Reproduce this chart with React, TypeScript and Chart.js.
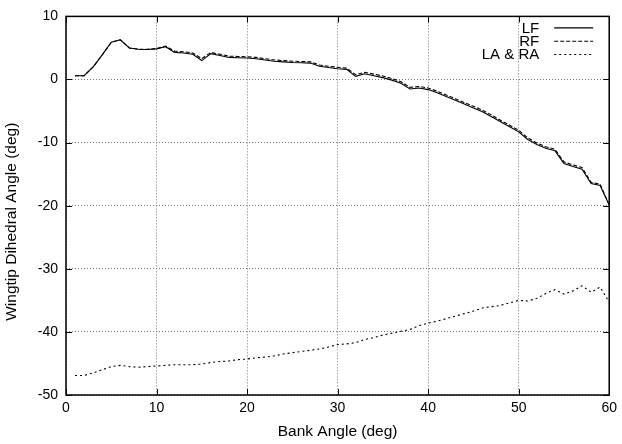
import React, { useEffect, useRef } from "react";
import { Chart, registerables } from "chart.js";

Chart.register(...registerables);

const bankAngle = [1,2,3,4,5,6,7,8,9,10,11,12,13,14,15,16,17,18,19,20,21,22,23,24,25,26,27,28,29,30,31,32,33,34,35,36,37,38,39,40,41,42,43,44,45,46,47,48,49,50,51,52,53,54,55,56,57,58,59,60];

const lf = [0.6,0.6,2.0,3.9,5.9,6.3,5.0,4.8,4.75,4.85,5.2,4.3,4.2,4.0,3.0,4.1,3.8,3.5,3.45,3.4,3.3,3.1,2.9,2.8,2.7,2.65,2.6,2.1,1.9,1.7,1.6,0.5,0.9,0.6,0.3,-0.1,-0.6,-1.5,-1.35,-1.6,-2.1,-2.7,-3.3,-3.9,-4.5,-5.1,-5.9,-6.7,-7.5,-8.3,-9.5,-10.3,-10.9,-11.3,-13.3,-13.8,-14.2,-16.5,-16.8,-19.9];

const rf = [0.6,0.6,2.0,3.9,5.9,6.3,5.0,4.8,4.8,4.9,5.3,4.5,4.4,4.2,3.3,4.3,4.0,3.7,3.65,3.6,3.5,3.3,3.1,3.0,2.9,2.85,2.8,2.3,2.1,1.95,1.8,0.75,1.15,0.85,0.55,0.15,-0.35,-1.25,-1.1,-1.35,-1.85,-2.45,-3.05,-3.65,-4.25,-4.85,-5.65,-6.45,-7.25,-8.05,-9.25,-10.05,-10.65,-11.05,-13.05,-13.55,-13.95,-16.3,-16.6,-19.9];

const laRa = [-46.9,-46.9,-46.5,-46.0,-45.5,-45.3,-45.5,-45.6,-45.5,-45.4,-45.3,-45.2,-45.2,-45.2,-45.1,-44.85,-44.7,-44.6,-44.4,-44.3,-44.1,-44.0,-43.8,-43.5,-43.3,-43.1,-42.9,-42.7,-42.4,-42.0,-41.9,-41.7,-41.2,-40.9,-40.5,-40.2,-39.9,-39.6,-39.0,-38.6,-38.3,-37.9,-37.5,-37.1,-36.7,-36.2,-36.0,-35.8,-35.4,-35.0,-35.1,-34.7,-33.9,-33.3,-34.0,-33.5,-32.7,-33.7,-32.9,-35.3];

const seriesNames = ["LF", "RF", "LA & RA"];
const seriesDash = [[], [4, 2], [2, 3]];
const xTitle = "Bank Angle (deg)";
const yTitle = "Wingtip Dihedral Angle (deg)";

const FONT = "'Liberation Sans', Arial, Helvetica, sans-serif";

const framePlugin = {
  id: "frame",
  afterDraw(chart: any) {
    const { ctx, chartArea } = chart;
    const { left, right, top, bottom } = chartArea;
    const xs = chart.scales.x;
    const ys = chart.scales.y;
    ctx.save();
    ctx.strokeStyle = "#000";
    ctx.lineWidth = 1;
    ctx.setLineDash([]);
    const tl = 6;
    xs.ticks.forEach((t: any) => {
      const px = Math.round(xs.getPixelForValue(t.value)) + 0.5;
      ctx.beginPath();
      ctx.moveTo(px, bottom);
      ctx.lineTo(px, bottom - tl);
      ctx.moveTo(px, top);
      ctx.lineTo(px, top + tl);
      ctx.stroke();
    });
    ys.ticks.forEach((t: any) => {
      const py = Math.round(ys.getPixelForValue(t.value)) + 0.5;
      ctx.beginPath();
      ctx.moveTo(left, py);
      ctx.lineTo(left + tl, py);
      ctx.moveTo(right, py);
      ctx.lineTo(right - tl, py);
      ctx.stroke();
    });
    ctx.lineWidth = 1.5;
    ctx.strokeRect(left, top, right - left, bottom - top);

    // axis titles
    ctx.fillStyle = "#000";
    ctx.font = "15.5px " + FONT;
    ctx.textAlign = "center";
    ctx.textBaseline = "middle";
    ctx.fillText(xTitle, (left + right) / 2, bottom + 37);
    ctx.save();
    ctx.translate(12, (top + bottom) / 2 + 16);
    ctx.rotate(-Math.PI / 2);
    ctx.fillText(yTitle, 0, 0);
    ctx.restore();

    // legend
    ctx.font = "15px " + FONT;
    ctx.textAlign = "right";
    ctx.textBaseline = "middle";
    const textRight = right - 70;
    const lineStart = right - 55;
    const lineEnd = right - 16;
    chart.data.datasets.forEach((ds: any, i: number) => {
      const y = top + 11 + i * 13.3;
      ctx.fillText(ds.label, textRight, y + 1);
      ctx.beginPath();
      ctx.lineWidth = 1.1;
      ctx.setLineDash(ds.borderDash || []);
      ctx.moveTo(lineStart, y + 0.5);
      ctx.lineTo(lineEnd, y + 0.5);
      ctx.stroke();
    });
    ctx.restore();
  },
};

export default function App() {
  const ref = useRef<HTMLCanvasElement>(null);
  useEffect(() => {
    document.body.style.margin = "0";
    const datasets = [lf, rf, laRa].map((vals, i) => ({
      label: seriesNames[i],
      data: bankAngle.map((x, j) => ({ x, y: vals[j] })),
      borderColor: "#000",
      borderWidth: 1.1,
      borderDash: seriesDash[i],
      pointRadius: 0,
      fill: false,
      tension: 0,
    }));
    const chart = new Chart(ref.current!, {
      type: "line",
      data: { datasets },
      options: {
        animation: false,
        responsive: false,
        layout: { padding: { left: 0, right: 12, top: 14, bottom: 0 } },
        plugins: { legend: { display: false }, tooltip: { enabled: false } },
        scales: {
          x: {
            type: "linear",
            min: 0,
            max: 60,
            ticks: { stepSize: 10, color: "#000", font: { family: FONT, size: 14 }, padding: 5 },
            grid: { color: "#777", tickLength: 0, drawTicks: false, lineWidth: 1 },
            border: { display: false, dash: [1, 2] },
            afterFit: (s: any) => { s.height = 49; },
          },
          y: {
            min: -50,
            max: 10,
            ticks: { stepSize: 10, color: "#000", font: { family: FONT, size: 14 }, padding: 8 },
            grid: { color: "#777", tickLength: 0, drawTicks: false, lineWidth: 1 },
            border: { display: false, dash: [1, 2] },
            afterFit: (s: any) => { s.width = 66; },
          },
        },
      },
      plugins: [framePlugin],
    } as any);
    return () => chart.destroy();
  }, []);
  return (
    <div style={{ width: 622, height: 444 }}>
      <canvas ref={ref} width={622} height={444} style={{ display: "block" }} />
    </div>
  );
}
